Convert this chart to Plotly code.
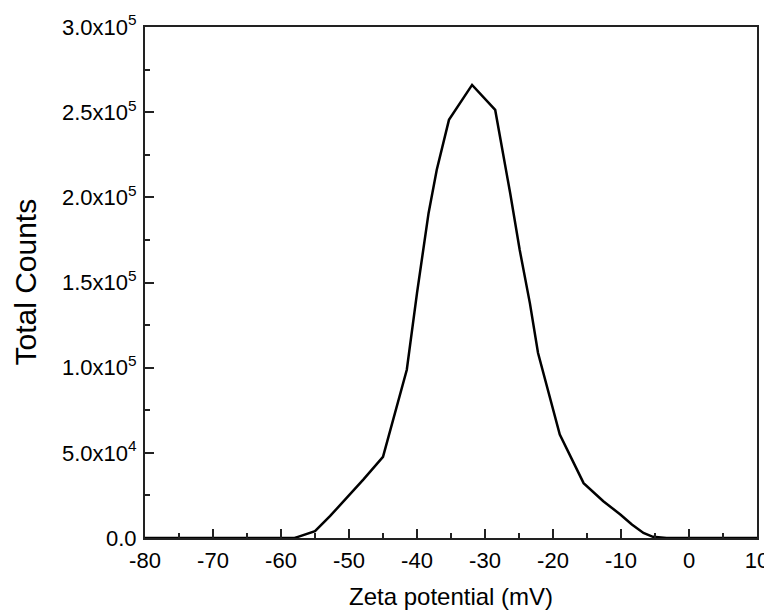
import plotly.graph_objects as go

zeta_mv = [-80, -58, -57.5, -55, -52.8, -50.3, -47.9, -45, -43.5, -41.5, -40.0, -38.3,
           -37.1, -35.3, -31.9, -28.5, -26.3, -24.9, -23.4, -22.2, -19.0, -15.5,
           -12.6, -10.1, -8.4, -6.7, -5.3, -3.3, 10]
total_counts = [0, 0, 700, 4000, 12800, 23500, 34300, 47600, 69400, 98800, 143800, 190700,
                216100, 245500, 266000, 251300, 202500, 169200, 137900, 108600, 60700, 32200,
                21600, 13800, 7900, 3000, 700, 0, 0]

x_ticks = [-80, -70, -60, -50, -40, -30, -20, -10, 0, 10]
y_tick_vals = [0, 50000, 100000, 150000, 200000, 250000, 300000]
y_tick_text = ["0.0", "5.0x10<sup>4</sup>", "1.0x10<sup>5</sup>", "1.5x10<sup>5</sup>",
               "2.0x10<sup>5</sup>", "2.5x10<sup>5</sup>", "3.0x10<sup>5</sup>"]

font_family = "Liberation Sans, Arial, sans-serif"

fig = go.Figure()
fig.add_trace(go.Scatter(x=zeta_mv, y=total_counts, mode="lines",
                         line=dict(color="black", width=2.5), showlegend=False))

axis_common = dict(
    showgrid=False, zeroline=False, showline=True, linecolor="#222222", linewidth=2,
    mirror=True, ticks="inside", ticklen=9, tickwidth=1.5, tickcolor="#222222",
    tickfont=dict(family=font_family, size=22, color="black"),
    automargin=False,
)

fig.update_xaxes(
    range=[-80, 10], tickvals=x_ticks, ticktext=[str(v) for v in x_ticks],
    minor=dict(ticks="inside", ticklen=5, tickwidth=1.5, tickcolor="#222222", dtick=5, tick0=-80),
    ticklabelstandoff=2,
    **axis_common,
)
fig.update_yaxes(
    range=[0, 300000], tickvals=y_tick_vals, ticktext=y_tick_text,
    minor=dict(ticks="inside", ticklen=5, tickwidth=1.5, tickcolor="#222222", dtick=25000, tick0=0),
    ticklabelstandoff=2,
    **axis_common,
)

fig.update_layout(
    width=764, height=605,
    margin=dict(l=137, r=15, t=19, b=75),
    plot_bgcolor="white", paper_bgcolor="white",
    annotations=[
        dict(text="Zeta potential (mV)", xref="paper", yref="paper", x=0.5, y=-0.114,
             xanchor="center", yanchor="middle", showarrow=False,
             font=dict(family=font_family, size=24, color="black")),
        dict(text="Total Counts", xref="paper", yref="paper", x=-0.196, y=0.5,
             xanchor="center", yanchor="middle", textangle=-90, showarrow=False,
             font=dict(family=font_family, size=30, color="black")),
    ],
)

fig.write_html("out.html")
